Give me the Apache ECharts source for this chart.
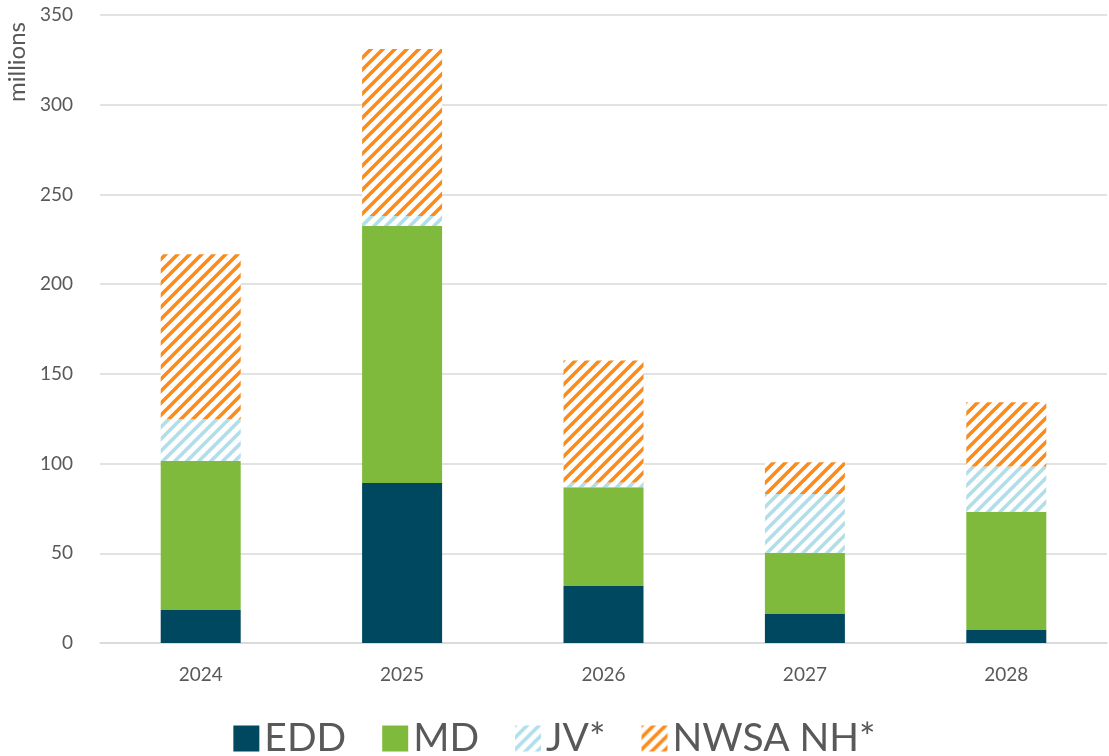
<!DOCTYPE html>
<html>
<head>
<meta charset="utf-8">
<script src="https://cdn.jsdelivr.net/npm/echarts@6/dist/echarts.min.js"></script>
<style>
html,body{margin:0;padding:0;background:#fff;}
#chart{width:1109px;height:756px;}
</style>
</head>
<body>
<div id="chart"></div>
<script>
const categories = ['2024', '2025', '2026', '2027', '2028'];
const eddValues = [18.4, 89.2, 31.8, 16.2, 7.2];
const mdValues = [83.0, 143.2, 55.0, 34.1, 65.8];
const jvValues = [23.4, 5.6, 2.6, 32.8, 25.3];
const nwsaValues = [91.8, 93.0, 68.0, 17.6, 35.9];
const seriesNames = ['EDD', 'MD', 'JV*', 'NWSA NH*'];
const yTicks = [0, 50, 100, 150, 200, 250, 300, 350];

function hatch(color) {
  const s = 12;
  const c = document.createElement('canvas');
  c.width = s; c.height = s;
  const ctx = c.getContext('2d');
  ctx.fillStyle = '#ffffff';
  ctx.fillRect(0, 0, s, s);
  ctx.strokeStyle = color;
  ctx.lineWidth = 3.6;
  ctx.beginPath();
  ctx.moveTo(-s, 2 * s); ctx.lineTo(2 * s, -s);
  ctx.moveTo(-2 * s, 2 * s); ctx.lineTo(s, -s);
  ctx.moveTo(0, 2 * s); ctx.lineTo(3 * s, -s);
  ctx.stroke();
  return { image: c, repeat: 'repeat' };
}

const chart = echarts.init(document.getElementById('chart'));
const textColor = '#595959';
const fontFam = 'Lato, sans-serif';
chart.setOption({
  animation: false,
  grid: { left: 100, right: 2, top: 15, bottom: 113 },
  legend: {
    bottom: -7,
    left: 'center',
    itemWidth: 26,
    itemHeight: 26,
    itemGap: 36,
    icon: 'rect',
    textStyle: { fontSize: 39, color: textColor, fontFamily: fontFam },
    data: seriesNames
  },
  graphic: [{
    type: 'text',
    left: 5,
    top: 22,
    rotation: Math.PI / 2,
    style: { text: 'millions', font: '24px Lato, sans-serif', fill: textColor }
  }],
  xAxis: {
    type: 'category',
    data: categories,
    axisTick: { show: false },
    axisLine: { lineStyle: { color: '#d9d9d9', width: 1.5 } },
    axisLabel: { fontSize: 19, color: textColor, margin: 22, fontFamily: fontFam }
  },
  yAxis: {
    type: 'value',
    min: yTicks[0],
    max: yTicks[yTicks.length - 1],
    interval: 50,
    axisLine: { show: false },
    axisTick: { show: false },
    splitLine: { lineStyle: { color: '#d9d9d9', width: 1.5 } },
    axisLabel: { fontSize: 19, color: textColor, margin: 27, fontFamily: fontFam }
  },
  series: [
    { name: seriesNames[0], type: 'bar', stack: 't', data: eddValues, barWidth: 80, itemStyle: { color: '#00485f' } },
    { name: seriesNames[1], type: 'bar', stack: 't', data: mdValues, itemStyle: { color: '#80ba3c' } },
    { name: seriesNames[2], type: 'bar', stack: 't', data: jvValues, itemStyle: { color: hatch('#aedfeb') } },
    { name: seriesNames[3], type: 'bar', stack: 't', data: nwsaValues, itemStyle: { color: hatch('#fc8b19') } }
  ]
});
</script>
</body>
</html>
